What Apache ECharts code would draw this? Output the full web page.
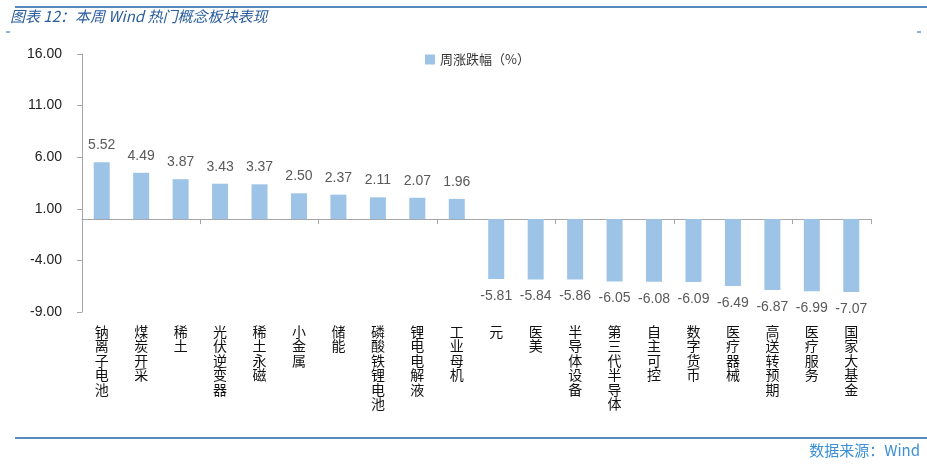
<!DOCTYPE html>
<html><head><meta charset="utf-8">
<script src="https://cdn.jsdelivr.net/npm/echarts@6/dist/echarts.min.js"></script>
<style>html,body{margin:0;padding:0;background:#fff}#c{width:927px;height:466px}</style>
</head><body><div id="c"></div>
<script>
const categories = ['钠离子电池','煤炭开采','稀土','光伏逆变器','稀土永磁','小金属','储能','磷酸铁锂电池','锂电电解液','工业母机','元','医美','半导体设备','第三代半导体','自主可控','数字货币','医疗器械','高送转预期','医疗服务','国家大基金'];
const weeklyChange = [5.52,4.49,3.87,3.43,3.37,2.50,2.37,2.11,2.07,1.96,-5.81,-5.84,-5.86,-6.05,-6.08,-6.09,-6.49,-6.87,-6.99,-7.07];
const yMin = -9, yMax = 16, yStep = 5;
const seriesName = '周涨跌幅（%）';
const titleText = '图表 12：本周 Wind 热门概念板块表现';
const sourceText = '数据来源：Wind';

const chart = echarts.init(document.getElementById('c'), null, {renderer:'canvas'});
const font = '"Microsoft YaHei","Noto Sans CJK SC",sans-serif';
chart.setOption({
  animation:false,
  backgroundColor:'#fff',
  grid:{left:82,right:56,top:54,bottom:154},
  legend:{left:420,top:48,itemWidth:10,itemHeight:10,itemGap:4,
    textStyle:{fontSize:13,color:'#333',fontFamily:font},
    data:[{name:seriesName,icon:'rect'}]},
  xAxis:[{type:'category',data:categories,
      axisLine:{onZero:true,lineStyle:{color:'#a6a6a6',width:1}},
      axisTick:{show:true,length:5,lineStyle:{color:'#a6a6a6'}},
      axisLabel:{show:false}},
    {type:'category',data:categories,position:'bottom',
      axisLine:{show:false,onZero:false},axisTick:{show:false},
      axisLabel:{show:true,margin:12,interval:0,color:'#111',fontSize:14,lineHeight:14.5,fontFamily:font,
        formatter:v=>v.split('').join('\n'),verticalAlign:'top'}}],
  yAxis:{type:'value',min:yMin,max:yMax,interval:yStep,
    splitLine:{show:false},
    axisLine:{show:true,lineStyle:{color:'#a6a6a6'}},
    axisTick:{show:true,length:5,lineStyle:{color:'#a6a6a6'}},
    axisLabel:{margin:20,color:'#222',fontSize:14,fontFamily:'"Liberation Sans",Arial,sans-serif',formatter:v=>v.toFixed(2)}},
  series:[{name:seriesName,type:'bar',xAxisIndex:0,data:weeklyChange,barWidth:16,
    itemStyle:{color:'#9dc3e6'},
    label:{show:true,position:'outside',distance:10,color:'#595959',fontSize:14,fontFamily:'"Liberation Sans",Arial,sans-serif',
      formatter:p=>p.value.toFixed(2)}}],
  graphic:[
    {type:'line',shape:{x1:15,y1:7,x2:927,y2:7},style:{stroke:'#1f64a8',lineWidth:1.5}},
    {type:'text',left:10,top:9,style:{text:titleText,fill:'#2a5d9c',font:'italic 15px "Noto Sans CJK SC",sans-serif'}},
    {type:'line',shape:{x1:6,y1:32,x2:10,y2:32},style:{stroke:'#1f64a8',lineWidth:1}},
    {type:'line',shape:{x1:917,y1:32,x2:921,y2:32},style:{stroke:'#1f64a8',lineWidth:1}},
    {type:'line',shape:{x1:15,y1:438,x2:927,y2:438},style:{stroke:'#1f64a8',lineWidth:1.5}},
    {type:'text',right:7,top:443,style:{text:sourceText,fill:'#3a8fd6',font:'15px "Noto Sans CJK SC",sans-serif'}}
  ]
});
</script></body></html>
